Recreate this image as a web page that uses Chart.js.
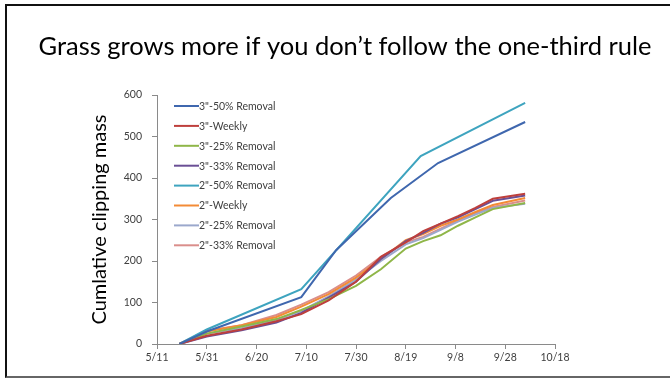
<!DOCTYPE html>
<html>
<head>
<meta charset="utf-8">
<script src="https://cdn.jsdelivr.net/npm/chart.js@4.4.0/dist/chart.umd.min.js"></script>
<style>
  html, body { margin: 0; padding: 0; background: #fff; overflow: hidden; }
  #wrap { position: relative; width: 670px; height: 379px; }
  #frame {
    position: absolute; left: 5px; top: 4px; width: 700px; height: 370px;
    border-left: 2px solid #111; border-top: 2px solid #111; border-bottom: 2px solid #666;
    pointer-events: none;
  }
</style>
</head>
<body>
<div id="wrap">
  <canvas id="chart" width="670" height="379"></canvas>
  <div id="frame"></div>
</div>
<script>
const chartTitle = "Grass grows more if you don\u2019t follow the one-third rule";
const yTitle = "Cumlative clipping mass";
const xTickLabels = ["5/11", "5/31", "6/20", "7/10", "7/30", "8/19", "9/8", "9/28", "10/18"];

// 50% removal plots were clipped less often
const dates3in50 = ["5/20", "5/31", "7/8", "7/22", "8/13", "9/1", "10/6"];
const mass3in50 = [0, 30, 113, 226, 352, 436, 535];
const dates2in50 = ["5/20", "5/31", "7/8", "8/25", "10/6"];
const mass2in50 = [0, 35, 132, 453, 581];

// everything else shares the same clipping dates
const clipDates = ["5/20", "5/31", "6/14", "6/28", "7/8", "7/19", "7/30", "8/9", "8/19", "8/26", "9/2", "9/9", "9/16", "9/23", "10/6"];
const mass3inWeekly = [0, 20, 35, 55, 72, 105, 150, 210, 245, 272, 290, 308, 328, 350, 362];
const mass3in25 = [0, 25, 42, 60, 82, 108, 140, 180, 230, 248, 262, 285, 305, 325, 340];
const mass3in33 = [0, 18, 33, 52, 75, 112, 150, 205, 248, 268, 290, 305, 325, 345, 358];
const mass2inWeekly = [0, 30, 45, 65, 90, 120, 160, 205, 250, 265, 285, 300, 318, 335, 352];
const mass2in25 = [0, 25, 38, 58, 80, 115, 155, 200, 240, 255, 275, 295, 312, 328, 338];
const mass2in33 = [0, 32, 45, 70, 95, 125, 165, 210, 245, 258, 278, 298, 315, 330, 346];

const monthStart = [0, 31, 59, 90, 120, 151, 181, 212, 243, 273, 304, 334];
function dayOfYear(md) {
  const [m, d] = md.split("/").map(Number);
  return monthStart[m - 1] + d;
}
function toPoints(dates, values) {
  return dates.map((d, i) => ({ x: dayOfYear(d), y: values[i] }));
}

const series = [
  { label: "3\"-50% Removal", color: "#3f67ae", dates: dates3in50, values: mass3in50 },
  { label: "3\"-Weekly", color: "#be3f3c", dates: clipDates, values: mass3inWeekly },
  { label: "3\"-25% Removal", color: "#8fb648", dates: clipDates, values: mass3in25 },
  { label: "3\"-33% Removal", color: "#6a4f95", dates: clipDates, values: mass3in33 },
  { label: "2\"-50% Removal", color: "#3ea4bf", dates: dates2in50, values: mass2in50 },
  { label: "2\"-Weekly", color: "#f38b36", dates: clipDates, values: mass2inWeekly },
  { label: "2\"-25% Removal", color: "#9ba8cc", dates: clipDates, values: mass2in25 },
  { label: "2\"-33% Removal", color: "#da8e8b", dates: clipDates, values: mass2in33 },
];

const axisColor = "#8a8a8a";
const textColor = "#404040";

// title across the slide and the legend sitting inside the plot
const slideText = {
  id: "slideText",
  afterDraw(chart) {
    const ctx = chart.ctx;
    ctx.save();
    ctx.fillStyle = "#000";
    ctx.font = "25.5px Lato";
    ctx.textAlign = "center";
    ctx.textBaseline = "alphabetic";
    ctx.fillText(chartTitle, 345, 55);

    ctx.font = "10.5px Lato";
    ctx.textAlign = "left";
    ctx.textBaseline = "middle";
    chart.data.datasets.forEach((ds, i) => {
      const y = 106 + i * 19.9;
      ctx.strokeStyle = ds.borderColor;
      ctx.lineWidth = 2;
      ctx.beginPath();
      ctx.moveTo(174, y);
      ctx.lineTo(199, y);
      ctx.stroke();
      ctx.fillStyle = textColor;
      ctx.fillText(ds.label, 199, y + 0.5);
    });
    ctx.restore();
  }
};

new Chart(document.getElementById("chart"), {
  type: "line",
  data: {
    datasets: series.map((s) => ({
      label: s.label,
      data: toPoints(s.dates, s.values),
      borderColor: s.color,
      backgroundColor: s.color,
      borderWidth: 2,
      pointRadius: 0,
      tension: 0,
      fill: false,
    })),
  },
  options: {
    responsive: false,
    animation: false,
    devicePixelRatio: 1,
    layout: { padding: { left: 88, right: 115, top: 95, bottom: 15 } },
    plugins: { legend: { display: false }, title: { display: false }, tooltip: { enabled: false } },
    scales: {
      x: {
        type: "linear",
        min: dayOfYear("5/11"),
        max: dayOfYear("10/18"),
        afterFit: (s) => { s.height = 20; },
        ticks: {
          stepSize: 20,
          color: textColor,
          font: { family: "Lato", size: 10.5 },
          padding: 2,
          maxRotation: 0,
          callback: (v, i) => xTickLabels[i],
        },
        grid: { drawOnChartArea: false, color: axisColor, tickLength: 5 },
        border: { color: axisColor },
      },
      y: {
        min: 0,
        max: 600,
        afterFit: (s) => { s.width = 69; },
        ticks: {
          stepSize: 100,
          color: textColor,
          font: { family: "Lato", size: 10.5 },
          padding: 10,
        },
        grid: { drawOnChartArea: false, color: axisColor, tickLength: 5 },
        border: { color: axisColor },
        title: {
          display: true,
          text: yTitle,
          color: "#000",
          font: { family: "Lato", size: 20 },
          padding: { top: 0, bottom: 4 },
        },
      },
    },
  },
  plugins: [slideText],
});
</script>
</body>
</html>
